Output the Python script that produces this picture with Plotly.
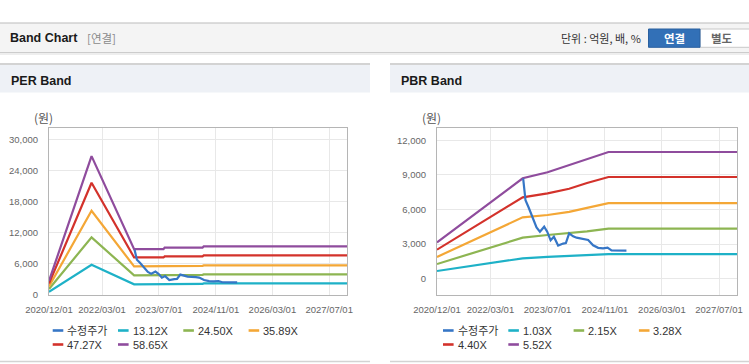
import plotly.graph_objects as go

W, H = 749, 364

# ---------------- data ----------------
per_dates = ['2020-12-01', '2021-12-01', '2022-12-01', '2023-08-10', '2023-08-20',
             '2024-07-10', '2024-07-20', '2027-12-01']
per_1312 = [600, 5840, 2050, 2050, 2140, 2140, 2240, 2240]
per_2450 = [1150, 11120, 3780, 3780, 3880, 3880, 3970, 3970]
per_3589 = [1650, 16240, 5510, 5510, 5620, 5620, 5700, 5700]
per_4727 = [2200, 21640, 7240, 7240, 7450, 7450, 7630, 7630]
per_5865 = [2700, 26780, 8850, 8850, 9150, 9150, 9360, 9360]

pbr_dates = ['2020-12-01', '2022-12-01', '2023-07-01', '2024-01-01', '2024-06-01',
             '2024-12-01', '2027-12-01']
pbr_103 = [670, 1770, 1900, 1990, 2050, 2140, 2140]
pbr_215 = [1275, 3560, 3790, 3940, 4100, 4340, 4340]
pbr_328 = [1890, 5325, 5525, 5800, 6150, 6560, 6560]
pbr_440 = [2520, 7060, 7400, 7800, 8300, 8820, 8820]
pbr_552 = [3150, 8710, 9230, 9850, 10350, 10990, 10990]

price_dates = ['2022-12-05', '2022-12-15', '2022-12-25', '2023-01-20', '2023-03-01',
               '2023-03-29', '2023-04-27', '2023-06-02', '2023-06-28', '2023-07-27',
               '2023-08-24', '2023-09-07', '2023-09-29', '2023-11-11', '2023-12-04',
               '2024-01-01', '2024-02-04', '2024-03-04', '2024-05-14', '2024-06-11',
               '2024-07-23', '2024-09-04', '2024-10-16', '2024-11-23', '2024-12-27',
               '2025-05-03']
price = [8710, 7500, 6800, 6200, 5250, 4450, 4080, 4510, 4080, 3330,
         3640, 3360, 2880, 3050, 3100, 3940, 3680, 3560, 3460, 3360,
         2900, 2680, 2640, 2700, 2460, 2440]

per_labels = ['수정주가', '13.12X', '24.50X', '35.89X', '47.27X', '58.65X']
pbr_labels = ['수정주가', '1.03X', '2.15X', '3.28X', '4.40X', '5.52X']
colors = ['#3676c6', '#1eb1c7', '#8db552', '#f4a736', '#d3322b', '#8f4c9d']

x_ticks = ['2020-12-01', '2022-03-01', '2023-07-01', '2024-11-01', '2026-03-01', '2027-07-01']
per_yticks = [0, 6000, 12000, 18000, 24000, 30000]
pbr_yticks = [0, 3000, 6000, 9000, 12000]

# ---------------- helpers ----------------
def px(x):
    return x / W

def py(y):
    return 1 - y / H

fig = go.Figure()

per_series = [per_1312, per_2450, per_3589, per_4727, per_5865]
pbr_series = [pbr_103, pbr_215, pbr_328, pbr_440, pbr_552]

for i, vals in enumerate(per_series):
    fig.add_trace(go.Scatter(x=per_dates, y=vals, mode='lines', name=per_labels[i + 1],
                             line=dict(color=colors[i + 1], width=2.2),
                             xaxis='x', yaxis='y', showlegend=False))
fig.add_trace(go.Scatter(x=price_dates, y=price, mode='lines', name=per_labels[0],
                         line=dict(color=colors[0], width=2.2),
                         xaxis='x', yaxis='y', showlegend=False))

for i, vals in enumerate(pbr_series):
    fig.add_trace(go.Scatter(x=pbr_dates, y=vals, mode='lines', name=pbr_labels[i + 1],
                             line=dict(color=colors[i + 1], width=2.2),
                             xaxis='x2', yaxis='y2', showlegend=False))
fig.add_trace(go.Scatter(x=price_dates, y=price, mode='lines', name=pbr_labels[0],
                         line=dict(color=colors[0], width=2.2),
                         xaxis='x2', yaxis='y2', showlegend=False))

tickfont = dict(family='Liberation Sans, Arial, sans-serif', size=9.5, color='#666666')
ydom = [py(295), py(128)]

common_x = dict(type='date', range=['2020-12-01', '2027-12-01'], tickvals=x_ticks,
                tickformat='%Y/%m/%d', showgrid=True, gridcolor='#e8e8e8', gridwidth=1,
                showline=True, linecolor='#b5b5b5', linewidth=1, mirror=True,
                ticks='', tickfont=tickfont, ticklabelstandoff=6, zeroline=False)
common_y = dict(showgrid=True, gridcolor='#e8e8e8', gridwidth=1, showline=True,
                linecolor='#b5b5b5', linewidth=1, mirror=True, ticks='',
                tickfont=tickfont, tickformat=',d', ticklabelstandoff=8, zeroline=False)

fig.update_layout(
    width=W, height=H, margin=dict(l=0, r=0, t=0, b=0, pad=0, autoexpand=False),
    paper_bgcolor='white', plot_bgcolor='white', showlegend=False,
    xaxis=dict(common_x, domain=[px(49), px(347)], anchor='y'),
    yaxis=dict(common_y, domain=ydom, range=[0, 32200], tickvals=per_yticks, anchor='x'),
    xaxis2=dict(common_x, domain=[px(437), px(737)], anchor='y2'),
    yaxis2=dict(common_y, domain=ydom, range=[-1410, 13070], tickvals=pbr_yticks, anchor='x2'),
)

shapes = []
annos = []

def rect(x0, y0, x1, y1, fill, line=None, lw=0):
    shapes.append(dict(type='rect', xref='paper', yref='paper', x0=px(x0), x1=px(x1),
                       y0=py(y1), y1=py(y0), fillcolor=fill,
                       line=dict(color=line or fill, width=lw), layer='below'))

def hline(x0, x1, y, color, w=1):
    shapes.append(dict(type='line', xref='paper', yref='paper', x0=px(x0), x1=px(x1),
                       y0=py(y), y1=py(y), line=dict(color=color, width=w)))

def text(x, y, s, size, color, anchor='left', bold=False, family=None):
    fam = family or 'Liberation Sans, Noto Sans CJK KR, sans-serif'
    t = '<b>' + s + '</b>' if bold else s
    annos.append(dict(xref='paper', yref='paper', x=px(x), y=py(y), text=t, showarrow=False,
                      xanchor=anchor, yanchor='middle',
                      font=dict(family=fam, size=size, color=color)))

# top header bar
rect(0, 23, 749, 52, '#f4f4f4')
hline(0, 749, 23, '#bcbcbc', 1.2)
hline(0, 749, 52.5, '#cccccc', 1.2)
hline(0, 749, 54, '#e8e8e8', 1.5)
text(8, 38.5, 'Band Chart', 12.5, '#1a1a1a', bold=True)
text(85, 38.5, '[연결]', 11.5, '#8a8a8a', family='Noto Sans CJK KR, sans-serif')
text(643, 38.5, '단위 : 억원, 배, %', 11, '#333333', anchor='right',
     family='Noto Sans CJK KR, sans-serif')

# buttons
shapes.append(dict(type='path', xref='paper', yref='paper',
                   path=('M {a},{b} L {c},{b} L {c},{d} L {a},{d} Z').format(
                       a=px(648.5), b=py(29), c=px(700), d=py(47.3)),
                   fillcolor='#3270b7', line=dict(color='#2a609f', width=1)))
rect(700, 29, 752, 47.3, '#ffffff', '#c8c8c8', 1)
text(674, 38.3, '연결', 11.5, '#ffffff', anchor='center', bold=True,
     family='Noto Sans CJK KR, sans-serif')
text(722, 38.3, '별도', 11.5, '#666666', anchor='center', bold=True,
     family='Noto Sans CJK KR, sans-serif')

# panel headers
for (x0, x1, title) in [(0, 370, 'PER Band'), (390, 749, 'PBR Band')]:
    rect(x0, 64, x1, 92.5, '#eef1f6')
    hline(x0, x1, 64, '#d3d3d3', 2)
    hline(x0, x1, 361.5, '#d3d3d3', 1.5)
    text(x0 + 9, 80.5, title, 12.5, '#1a1a1a', bold=True)

# unit labels
text(43, 118, '(원)', 12, '#555555', anchor='center', family='Noto Sans CJK KR, sans-serif')
text(431, 118, '(원)', 12, '#555555', anchor='center', family='Noto Sans CJK KR, sans-serif')

# legends
for base, labels in [(52.7, per_labels), (443, pbr_labels)]:
    for k, lab in enumerate(labels):
        row, col = (0, k) if k < 4 else (1, k - 4)
        x0 = base + 65.3 * col
        y = 330.5 if row == 0 else 344.5
        shapes.append(dict(type='line', xref='paper', yref='paper', x0=px(x0), x1=px(x0 + 10.6),
                           y0=py(y), y1=py(y), line=dict(color=colors[k], width=2.6)))
        text(x0 + 12.5, y, lab, 11, '#333333')

fig.update_layout(shapes=shapes, annotations=annos)
fig.write_html('out.html', config={'displayModeBar': False},
               post_script="document.body.style.margin='0';document.body.style.padding='0';")
